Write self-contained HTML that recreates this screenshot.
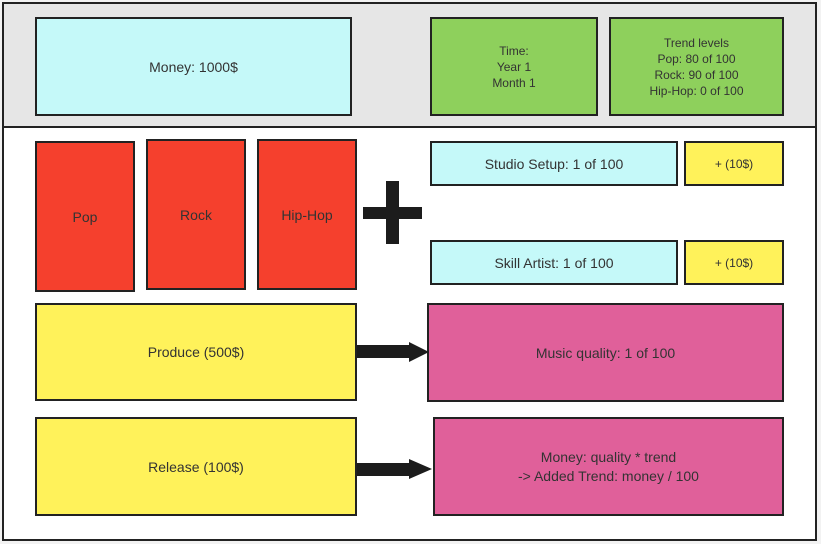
<!DOCTYPE html>
<html><head><style>
body{margin:0;width:821px;height:544px;background:#f2f2f2;position:relative;overflow:hidden;font-family:"Liberation Sans",sans-serif;color:#333;}
.b{position:absolute;box-sizing:border-box;border:2px solid #222;display:flex;align-items:center;justify-content:center;text-align:center;font-size:13px;line-height:16px;}
.cy{background:#c5f9f9}.gr{background:#8ed05c}.rd{background:#f5402d}.yl{background:#fff25a}.pk{background:#e0609a}
.k{position:absolute;background:#1c1c1c}
</style></head><body>
<div class="b" style="left:2px;top:2px;width:815px;height:539px;background:#fff;"></div>
<div class="b" style="left:2px;top:2px;width:815px;height:126px;background:#e6e6e6;"></div>
<div class="b cy" style="left:35px;top:17px;width:317px;height:99px;font-size:14px">Money: 1000$</div>
<div class="b gr" style="left:430px;top:17px;width:168px;height:99px;font-size:12px">Time:<br>Year 1<br>Month 1</div>
<div class="b gr" style="left:609px;top:17px;width:175px;height:99px;font-size:12px">Trend levels<br>Pop: 80 of 100<br>Rock: 90 of 100<br>Hip-Hop: 0 of 100</div>
<div class="b rd" style="left:35px;top:141px;width:100px;height:151px;font-size:14px">Pop</div>
<div class="b rd" style="left:146px;top:139px;width:100px;height:151px;font-size:14px">Rock</div>
<div class="b rd" style="left:257px;top:139px;width:100px;height:151px;font-size:14px">Hip-Hop</div>
<div class="k" style="left:386px;top:181px;width:13px;height:63px"></div>
<div class="k" style="left:363px;top:207px;width:59px;height:12px"></div>
<div class="b cy" style="left:430px;top:141px;width:248px;height:45px;font-size:14px">Studio Setup: 1 of 100</div>
<div class="b yl" style="left:684px;top:141px;width:100px;height:45px;font-size:12px">+ (10$)</div>
<div class="b cy" style="left:430px;top:240px;width:248px;height:45px;font-size:14px">Skill Artist: 1 of 100</div>
<div class="b yl" style="left:684px;top:240px;width:100px;height:45px;font-size:12px">+ (10$)</div>
<div class="b yl" style="left:35px;top:303px;width:322px;height:98px;font-size:14px">Produce (500$)</div>
<div class="b pk" style="left:427px;top:303px;width:357px;height:99px;font-size:14px">Music quality: 1 of 100</div>
<div class="b yl" style="left:35px;top:417px;width:322px;height:99px;font-size:14px">Release (100$)</div>
<div class="b pk" style="left:433px;top:417px;width:351px;height:99px;font-size:14px;line-height:19px">Money: quality * trend<br>-&gt; Added Trend: money / 100</div>
<svg style="position:absolute;left:0;top:0" width="821" height="544">
<polygon points="357,345 409,345 409,342 429,352 409,362 409,358 357,358" fill="#1c1c1c"/>
<polygon points="357,463 409,463 409,459 432,469 409,479 409,476 357,476" fill="#1c1c1c"/>
</svg>
</body></html>
